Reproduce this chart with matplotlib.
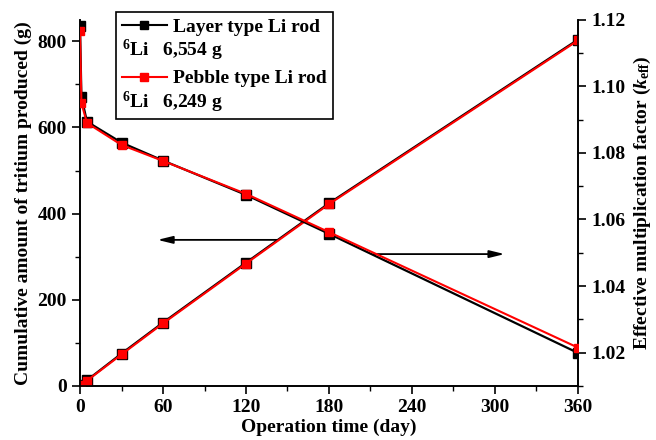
import matplotlib
matplotlib.use("Agg")
from matplotlib import pyplot as plt
from matplotlib.legend_handler import HandlerBase
from matplotlib.lines import Line2D
from matplotlib.text import Text
from matplotlib.ticker import MultipleLocator


# Data
days = [0, 1, 5, 30, 60, 120, 180, 360]
tritium_layer = [0, 3, 13, 75, 147, 286, 424, 804]
tritium_pebble = [0, 2, 12, 73, 145, 284, 422, 802]
keff_layer = [1.1180, 1.0969, 1.0894, 1.0831, 1.0777, 1.0674, 1.0557, 1.0199]
keff_pebble = [1.1165, 1.0950, 1.0890, 1.0824, 1.0776, 1.0677, 1.0562, 1.0215]

labels = ["Layer type Li rod", "Pebble type Li rod"]
li_notes = [r"$^{6}$Li   6,554 g", r"$^{6}$Li   6,249 g"]

# Fonts
plt.rcParams["font.family"] = ["Liberation Serif", "DejaVu Serif"]
plt.rcParams["font.weight"] = "bold"
plt.rcParams["mathtext.fontset"] = "custom"
plt.rcParams["mathtext.rm"] = "Liberation Serif:bold"
plt.rcParams["mathtext.bf"] = "Liberation Serif:bold"
plt.rcParams["mathtext.it"] = "Liberation Serif:italic:bold"
FS = 14


class NoteText:
    """Placeholder handle whose text is drawn in the handle slot"""
    def __init__(self, text):
        self.text = text


class HandlerNote(HandlerBase):
    def create_artists(self, legend, orig_handle, xdescent, ydescent,
                       width, height, fontsize, trans):
        t = Text(-xdescent, -ydescent + height / 2, orig_handle.text,
                 fontsize=fontsize, fontweight="bold", va="center",
                 ha="left", transform=trans)
        return [t]


fig = plt.figure(figsize=(6.56, 4.4), dpi=100)
ax = fig.add_axes([0.122, 0.123, 0.759, 0.832])
ax2 = ax.twinx()

# tritium (left axis)
ax.plot(days, tritium_layer, color="black", lw=1.6, marker="s", ms=6.5, zorder=3)
ax.plot(days, tritium_pebble, color="red", lw=1.5, marker="s", ms=6, zorder=4)

# keff (right axis)
ax2.plot(days, keff_layer, color="black", lw=1.6, marker="s", ms=6.5, zorder=3)
ax2.plot(days, keff_pebble, color="red", lw=1.5, marker="s", ms=6, zorder=4)

ax.set_xlim(0, 360)
ax.set_ylim(0, 850)
ax2.set_ylim(1.01, 1.12)

ax.xaxis.set_major_locator(MultipleLocator(60))
ax.xaxis.set_minor_locator(MultipleLocator(30))
ax.yaxis.set_major_locator(MultipleLocator(200))
ax.yaxis.set_minor_locator(MultipleLocator(100))
ax2.yaxis.set_major_locator(MultipleLocator(0.02))
ax2.yaxis.set_minor_locator(MultipleLocator(0.01))

for a in (ax, ax2):
    a.spines["top"].set_visible(False)
    for s in a.spines.values():
        s.set_linewidth(1.2)
    a.tick_params(which="major", direction="out", length=6, width=1.2,
                  labelsize=FS)
    a.tick_params(which="minor", direction="out", length=3.5, width=1.0)
ax.tick_params(axis="y", right=False, which="both")
ax2.yaxis.set_major_formatter(plt.FormatStrFormatter("%.2f"))

ax.set_xlabel("Operation time (day)", fontsize=FS, fontweight="bold", labelpad=2)
ax.set_ylabel("Cumulative amount of tritium produced (g)", fontsize=FS,
              fontweight="bold", labelpad=4)
ax2.set_ylabel(r"Effective multiplication factor ($k_{\rm eff}$)", fontsize=FS,
               fontweight="bold", labelpad=5)

# arrows pointing to the axis each curve belongs to
arrow = dict(arrowstyle="-|>,head_length=0.9,head_width=0.22",
             color="black", lw=1.3, shrinkA=0, shrinkB=0)
ax.annotate("", xy=(56, 339), xytext=(143, 339), arrowprops=arrow)
ax.annotate("", xy=(307, 306), xytext=(212, 306), arrowprops=arrow)

# legend
handles = [
    Line2D([], [], color="black", lw=1.5, marker="s", ms=6),
    NoteText(li_notes[0]),
    Line2D([], [], color="red", lw=1.5, marker="s", ms=6),
    NoteText(li_notes[1]),
]
leg = fig.legend(handles, [labels[0], "", labels[1], ""],
                 handler_map={NoteText: HandlerNote()},
                 loc="upper left", bbox_to_anchor=(0.177, 0.972),
                 prop={"family": "Liberation Serif", "weight": "bold",
                       "size": FS},
                 frameon=True, fancybox=False, edgecolor="black",
                 framealpha=1, handlelength=2.3, handletextpad=0.35,
                 labelspacing=0.42, borderpad=0.3, borderaxespad=0)
leg.get_frame().set_linewidth(1.2)

fig.savefig("out.png", dpi=100)
